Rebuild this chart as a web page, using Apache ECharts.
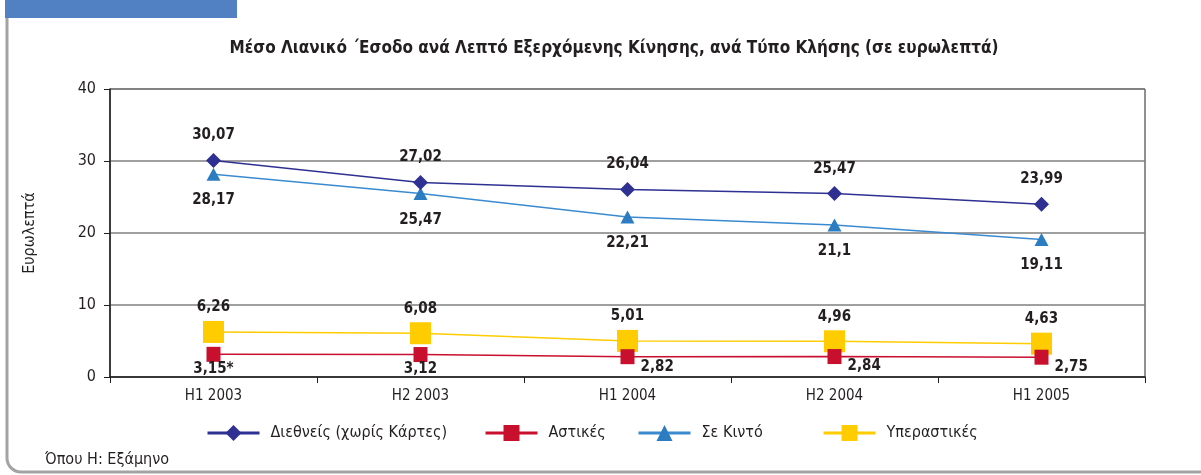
<!DOCTYPE html>
<html lang="el">
<head>
  <meta charset="UTF-8">
  <title>Μέσο Λιανικό Έσοδο</title>
  <script src="https://cdn.jsdelivr.net/npm/echarts@6/dist/echarts.min.js"></script>
  <style type="text/css">
    html, body { margin: 0; padding: 0; background: #ffffff; }
    #chart { width: 1201px; height: 475px; }
  </style>
</head>
<body>
<div id="chart"></div>
<script type="text/javascript">
// categories and values
var periods = ['H1 2003', 'H2 2003', 'H1 2004', 'H2 2004', 'H1 2005'];
var diethneis = [30.07, 27.02, 26.04, 25.47, 23.99];
var astikes = [3.15, 3.12, 2.82, 2.84, 2.75];
var kinito = [28.17, 25.47, 22.21, 21.1, 19.11];
var yperastikes = [6.26, 6.08, 5.01, 4.96, 4.63];
var astikesNotes = ['*', '', '', '', ''];
var yTicks = [0, 10, 20, 30, 40];

var names = ['Διεθνείς (χωρίς Κάρτες)', 'Αστικές', 'Σε Κιντό', 'Υπεραστικές'];
var font = '"DejaVu Sans Condensed", "Liberation Sans Narrow", sans-serif';

function comma(v) {
  return String(v).replace('.', ',');
}

var labelStyle = {
  show: true,
  fontFamily: font,
  fontWeight: 'bold',
  fontSize: 15,
  color: '#231f20'
};

// Αστικές: the last three labels sit to the lower right of the marker
var astikesData = astikes.map(function (v, i) {
  var item = { value: v };
  if (i >= 2) {
    item.label = { position: 'right', offset: [6, 10] };
  }
  return item;
});

var myChart = echarts.init(document.getElementById('chart'));

function legendItem(name, left) {
  return {
    data: [name],
    left: left,
    top: 420,
    itemWidth: 52,
    itemHeight: 20,
    lineStyle: { width: 3 },
    textStyle: { fontFamily: font, fontSize: 16, color: '#231f20', padding: [0, 0, 0, 6] }
  };
}

var frame = { stroke: '#a3a3a3', lineWidth: 3, fill: null };

var option = {
  animation: false,
  title: {
    text: 'Μέσο Λιανικό ΄Εσοδο ανά Λεπτό Εξερχόμενης Κίνησης, ανά Τύπο Κλήσης (σε ευρωλεπτά)',
    left: 609,
    textAlign: 'center',
    top: 35,
    textStyle: { fontFamily: font, fontWeight: 'bold', fontSize: 17, color: '#231f20' }
  },
  legend: [
    legendItem(names[0], 201),
    legendItem(names[1], 479),
    legendItem(names[2], 632),
    legendItem(names[3], 817)
  ],
  grid: {
    left: 110,
    right: 56,
    top: 89,
    bottom: 98,
    show: true,
    borderColor: '#231f20',
    borderWidth: 1
  },
  xAxis: {
    type: 'category',
    data: periods,
    boundaryGap: true,
    axisLine: { lineStyle: { color: '#231f20', width: 1.5 } },
    axisTick: { show: true, length: 6, lineStyle: { color: '#231f20' } },
    axisLabel: { fontFamily: font, fontSize: 15, color: '#231f20', margin: 12 }
  },
  yAxis: {
    type: 'value',
    min: yTicks[0],
    max: yTicks[yTicks.length - 1],
    interval: 10,
    name: 'Ευρωλεπτά',
    nameLocation: 'middle',
    nameGap: 72,
    nameTextStyle: { fontFamily: font, fontSize: 16, fontWeight: 500, color: '#231f20' },
    axisLine: { show: true, lineStyle: { color: '#231f20', width: 1.5 } },
    axisTick: { show: true, length: 6, lineStyle: { color: '#231f20' } },
    axisLabel: { fontFamily: font, fontSize: 16, color: '#231f20', margin: 14 },
    splitLine: { show: true, lineStyle: { color: '#7f7f7f', width: 1.5 } }
  },
  graphic: [
    {
      type: 'rect',
      shape: { x: 5, y: 0, width: 232, height: 18 },
      style: { fill: '#5180c3' }
    },
    { type: 'line', shape: { x1: 7, y1: 18, x2: 7, y2: 458 }, style: frame },
    { type: 'arc', shape: { cx: 21, cy: 458, r: 14, startAngle: Math.PI / 2, endAngle: Math.PI }, style: frame },
    { type: 'line', shape: { x1: 21, y1: 472, x2: 1201, y2: 472 }, style: frame },
    {
      type: 'text',
      left: 45,
      top: 452,
      style: { text: 'Όπου Η: Εξάμηνο', fontFamily: font, fontSize: 16, fill: '#231f20' }
    }
  ],
  series: [
    {
      name: names[0],
      type: 'line',
      data: diethneis,
      symbol: 'diamond',
      symbolSize: 15,
      itemStyle: { color: '#2e3192' },
      lineStyle: { color: '#2e3192', width: 1.5 },
      label: Object.assign({}, labelStyle, {
        position: 'top', distance: 10,
        formatter: function (p) { return comma(p.value); }
      }),
      z: 4
    },
    {
      name: names[1],
      type: 'line',
      data: astikesData,
      symbol: 'rect',
      symbolSize: [14, 15],
      itemStyle: { color: '#c8102e' },
      lineStyle: { color: '#c8102e', width: 1.5 },
      label: Object.assign({}, labelStyle, {
        position: 'bottom', distance: 0,
        formatter: function (p) { return comma(p.value) + astikesNotes[p.dataIndex]; }
      }),
      z: 3
    },
    {
      name: names[2],
      type: 'line',
      data: kinito,
      symbol: 'triangle',
      symbolSize: [14, 13],
      itemStyle: { color: '#2b7cc1' },
      lineStyle: { color: '#3a8ad0', width: 1.5 },
      label: Object.assign({}, labelStyle, {
        position: 'bottom', distance: 12,
        formatter: function (p) { return comma(p.value); }
      }),
      z: 3
    },
    {
      name: names[3],
      type: 'line',
      data: yperastikes,
      symbol: 'rect',
      symbolSize: [21, 22],
      itemStyle: { color: '#ffcc00' },
      lineStyle: { color: '#ffcc00', width: 1.5 },
      label: Object.assign({}, labelStyle, {
        position: 'top', distance: 6,
        formatter: function (p) { return comma(p.value); }
      }),
      z: 2
    }
  ]
};
myChart.setOption(option);
</script>
</body>
</html>
